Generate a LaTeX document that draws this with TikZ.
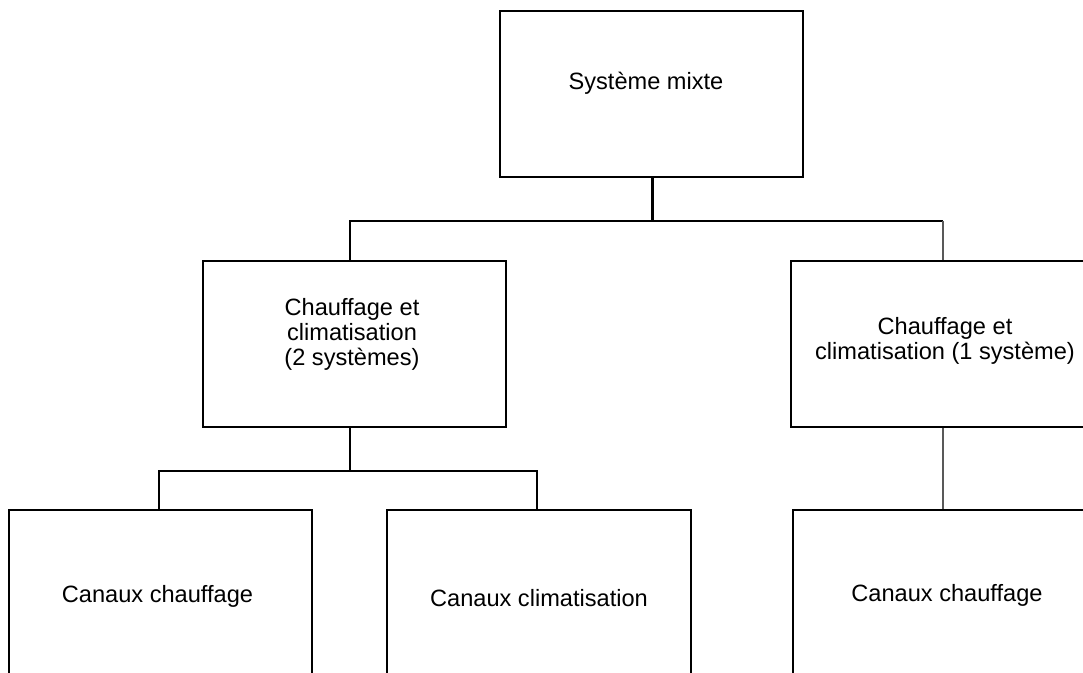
\documentclass[tikz,border=0pt]{standalone}
\usepackage{fontspec}
\setmainfont{Liberation Sans}
\begin{document}
\begin{tikzpicture}[x=0.75pt,y=-0.75pt,
  box/.style={draw=black,line width=1.6pt,rectangle,inner sep=0pt},
  label/.style={font=\fontsize{17.7}{18.75}\selectfont,align=center,anchor=base,inner sep=0pt},
  link/.style={draw=black,line width=1.6pt},
  thinlink/.style={draw=black!65,line width=0.8pt}]
\useasboundingbox (0,0) rectangle (1083,673);
\clip (0,0) rectangle (1083,673);

% boxes (the right and bottom ones run past the edge of the page)
\node[box,minimum width=303*0.75pt,minimum height=166*0.75pt] (top) at (651.5,94) {};
\node[box,minimum width=303*0.75pt,minimum height=166*0.75pt] (midL) at (354.5,344) {};
\node[box,minimum width=320*0.75pt,minimum height=166*0.75pt] (midR) at (951,344) {};
\node[box,minimum width=303*0.75pt,minimum height=190*0.75pt] (botL) at (160.5,605) {};
\node[box,minimum width=304*0.75pt,minimum height=190*0.75pt] (botM) at (539,605) {};
\node[box,minimum width=320*0.75pt,minimum height=190*0.75pt] (botR) at (953,605) {};

% texts (base = baseline of the last line)
\node[label] (tTop) at (646,90) {Système mixte};
\node[label] (tMidL) at (352,366) {Chauffage et\\climatisation\\(2 systèmes)};
\node[label] (tMidR) at (945,360) {Chauffage et\\climatisation (1 système)};
\node[label] (tBotL) at (157.5,603) {Canaux chauffage};
\node[label] (tBotM) at (539,607) {Canaux climatisation};
\node[label] (tBotR) at (947,602) {Canaux chauffage};

% branch points
\coordinate (j1) at (652.5,221);
\coordinate (j1L) at (350,221);
\coordinate (j1R) at (943,221);
\coordinate (j2) at (350,471);
\coordinate (j2L) at (159,471);
\coordinate (j2R) at (537,471);

% connectors
\draw[link] (top.south -| j1) -- (j1);
\draw[link] (j1R) -- (j1L) -- (midL.north -| j1L);
\draw[thinlink] (j1R) -- (midR.north -| j1R);
\draw[link] (midL.south -| j2) -- (j2);
\draw[link] (j2L |- botL.north) -- (j2L) -- (j2R) -- (j2R |- botM.north);
\draw[thinlink] (midR.south -| j1R) -- (botR.north -| j1R);
\end{tikzpicture}
\end{document}
